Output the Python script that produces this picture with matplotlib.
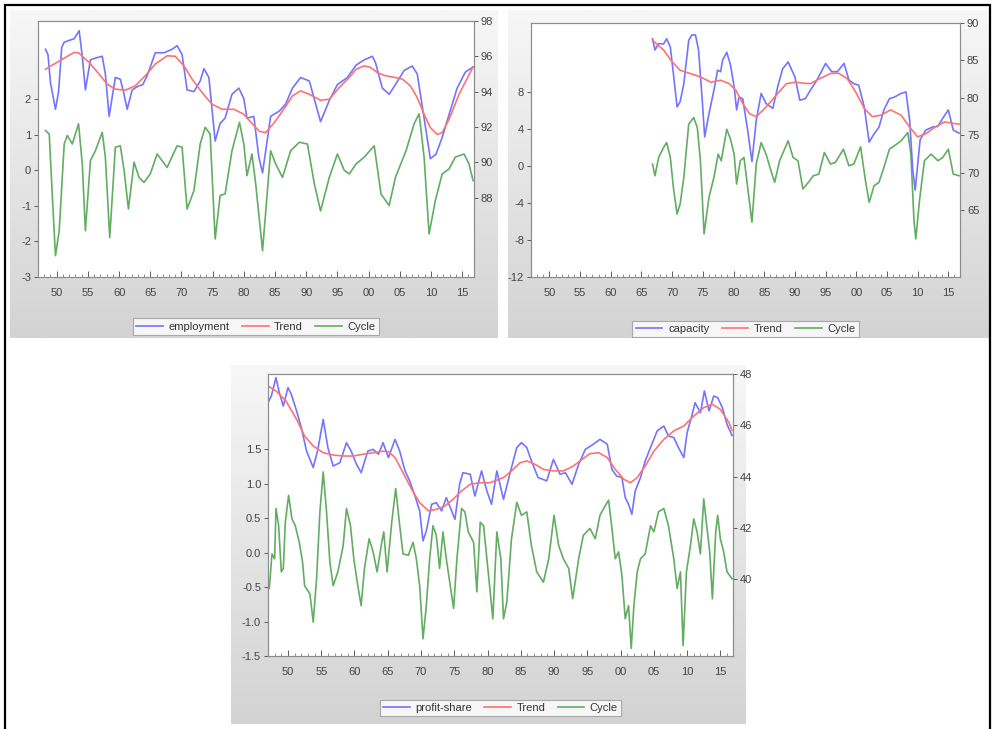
import numpy as np
import matplotlib.pyplot as plt
from matplotlib.colors import LinearSegmentedColormap
from matplotlib.patches import Rectangle
from matplotlib.ticker import MultipleLocator, FuncFormatter

plt.rcParams['font.family'] = ['Liberation Sans', 'DejaVu Sans']

# ---- employment panel ----
emp_yr = [1948.2, 1948.6, 1949.0, 1949.8, 1950.3, 1950.8, 1951.2, 1952.0, 1952.8, 1953.6,
          1954.1, 1954.6, 1955.4, 1956.2, 1957.3, 1957.8, 1958.4, 1959.4, 1960.2, 1960.7,
          1961.3, 1962.1, 1963.0, 1963.8, 1964.5, 1965.8, 1967.2, 1968.5, 1969.3, 1970.1,
          1970.9, 1972.0, 1973.0, 1973.6, 1974.4, 1975.4, 1976.2, 1977.0, 1978.1, 1979.2,
          1980.0, 1980.5, 1981.6, 1982.4, 1983.0, 1984.3, 1985.7, 1986.7, 1987.8, 1989.1,
          1990.5, 1992.3, 1993.7, 1995.0, 1996.6, 1998.0, 1999.3, 2000.6, 2001.1, 2002.2,
          2003.3, 2004.3, 2005.7, 2007.0, 2007.8, 2008.9, 2009.9, 2010.8, 2011.8, 2012.9,
          2014.2, 2015.5, 2016.75]
emp_val = [96.4, 96.1, 94.5, 93.0, 94.0, 96.5, 96.8, 96.9, 97.0, 97.45,
           96.0, 94.1, 95.8, 95.9, 96.0, 95.0, 92.6, 94.8, 94.7, 94.0,
           93.0, 94.1, 94.3, 94.4, 94.9, 96.2, 96.2, 96.4, 96.6, 96.1,
           94.1, 94.0, 94.6, 95.3, 94.8, 91.2, 92.2, 92.5, 93.85, 94.2,
           93.6, 92.5, 92.6, 90.3, 89.4, 92.6, 92.9, 93.3, 94.2, 94.8,
           94.6, 92.3, 93.5, 94.4, 94.8, 95.5, 95.8, 96.0, 95.65, 94.2,
           93.85, 94.4, 95.2, 95.45, 95.0, 92.5, 90.2, 90.45, 91.4, 92.7,
           94.2, 95.1, 95.4]
emp_tr_yr = [1948.2, 1950.9, 1952.8, 1953.5, 1955.2, 1956.8, 1958.1, 1959.4, 1961.0, 1962.6,
             1964.2, 1965.8, 1967.7, 1969.0, 1970.4, 1971.7, 1973.3, 1974.9, 1976.5, 1978.4,
             1980.0, 1981.3, 1982.5, 1983.5, 1984.9, 1986.2, 1987.8, 1989.1, 1990.5, 1992.3,
             1993.7, 1995.3, 1996.9, 1998.0, 1999.3, 2000.3, 2001.4, 2002.7, 2004.3, 2005.4,
             2006.7, 2007.8, 2008.9, 2009.9, 2011.0, 2011.8, 2012.9, 2014.5, 2016.75]
emp_tr_val = [95.27, 95.84, 96.22, 96.2, 95.65, 94.99, 94.42, 94.14, 94.08, 94.33,
              94.9, 95.56, 96.03, 96.0, 95.46, 94.71, 93.95, 93.29, 93.0, 93.0,
              92.72, 92.2, 91.75, 91.68, 92.25, 92.9, 93.76, 94.04, 93.85, 93.51,
              93.57, 94.23, 94.8, 95.27, 95.46, 95.37, 95.08, 94.9, 94.8, 94.71,
              94.33, 93.66, 92.72, 91.96, 91.58, 91.68, 92.43, 93.85, 95.4]
emp_cy_yr = [1948.2, 1948.8, 1949.2, 1949.8, 1950.4, 1951.2, 1951.7, 1952.5, 1953.5, 1954.1,
             1954.6, 1955.4, 1956.2, 1957.3, 1957.8, 1958.5, 1959.4, 1960.2, 1960.8, 1961.5,
             1962.4, 1963.2, 1964.0, 1965.0, 1966.1, 1967.7, 1969.3, 1970.1, 1970.9, 1972.0,
             1973.0, 1973.8, 1974.6, 1975.4, 1976.2, 1977.0, 1978.1, 1979.3, 1980.0, 1980.5,
             1981.3, 1981.9, 1983.0, 1984.3, 1985.1, 1986.2, 1987.5, 1988.9, 1990.2, 1991.3,
             1992.3, 1993.7, 1995.0, 1996.1, 1996.9, 1998.0, 1999.3, 2000.9, 2002.0, 2003.3,
             2004.3, 2006.0, 2007.3, 2008.1, 2008.9, 2009.7, 2010.7, 2011.8, 2012.9, 2013.9,
             2015.3, 2016.1, 2016.75]
emp_cy_val = [1.12, 1.02, -0.38, -2.40, -1.70, 0.74, 0.98, 0.74, 1.31, 0.18,
              -1.70, 0.27, 0.55, 1.07, 0.37, -1.89, 0.65, 0.69, 0.0, -1.09,
              0.23, -0.20, -0.34, -0.10, 0.46, 0.08, 0.69, 0.65, -1.09, -0.57,
              0.74, 1.21, 1.02, -1.93, -0.71, -0.66, 0.55, 1.35, 0.74, -0.15,
              0.46, -0.38, -2.26, 0.55, 0.18, -0.20, 0.55, 0.79, 0.74, -0.38,
              -1.14, -0.20, 0.46, 0.0, -0.10, 0.18, 0.37, 0.69, -0.67, -0.99,
              -0.20, 0.55, 1.31, 1.59, 0.37, -1.79, -0.85, -0.10, 0.04, 0.37,
              0.46, 0.18, -0.29]

# ---- capacity panel ----
cap_yr = [1966.8, 1967.2, 1967.8, 1968.6, 1969.1, 1969.7, 1970.2, 1970.8, 1971.3, 1971.9,
          1972.7, 1973.2, 1973.8, 1974.3, 1974.9, 1975.3, 1976.0, 1976.8, 1977.4, 1977.9,
          1978.2, 1978.9, 1979.5, 1980.1, 1980.5, 1980.9, 1981.5, 1982.3, 1983.0, 1983.7,
          1984.5, 1985.3, 1986.4, 1987.2, 1988.0, 1988.9, 1990.0, 1990.8, 1991.7, 1992.5,
          1993.6, 1995.0, 1996.0, 1996.9, 1998.0, 1998.8, 1999.6, 2000.4, 2001.3, 2002.1,
          2002.9, 2003.7, 2004.5, 2005.4, 2006.2, 2007.3, 2008.1, 2008.7, 2009.2, 2009.6,
          2010.4, 2011.3, 2012.4, 2013.3, 2014.1, 2015.0, 2015.8, 2016.75]
cap_val = [87.9, 86.4, 87.25, 87.2, 87.9, 86.8, 83.25, 78.8, 79.5, 81.9,
           87.7, 88.4, 88.4, 86.4, 79.7, 74.8, 77.9, 81.0, 83.7, 83.5,
           85.0, 86.1, 84.4, 81.5, 78.4, 80.1, 79.9, 75.7, 71.5, 77.0,
           80.6, 79.25, 78.6, 81.5, 83.9, 84.8, 82.8, 79.7, 79.9, 81.0,
           82.4, 84.6, 83.5, 83.5, 84.6, 82.4, 81.9, 81.7, 78.8, 74.1,
           75.2, 76.1, 78.4, 79.9, 80.1, 80.6, 80.8, 77.0, 70.4, 67.7,
           74.4, 75.7, 76.1, 76.2, 77.3, 78.4, 75.7, 75.3]
cap_tr_yr = [1966.8, 1968.6, 1970.0, 1971.3, 1973.0, 1974.6, 1976.3, 1977.9, 1979.3, 1980.4,
             1981.5, 1982.6, 1983.7, 1984.8, 1985.8, 1987.2, 1988.6, 1990.0, 1991.0, 1992.5,
             1994.1, 1995.8, 1997.1, 1998.5, 1999.9, 2001.3, 2002.6, 2004.0, 2005.6, 2007.3,
             2008.7, 2010.0, 2011.4, 2012.8, 2014.4, 2015.8, 2016.75]
cap_tr_val = [87.7, 86.4, 84.8, 83.7, 83.25, 82.8, 82.1, 82.36, 81.9, 81.0,
              79.25, 77.9, 77.5, 78.36, 79.25, 80.6, 81.9, 82.1, 82.0, 81.9,
              82.6, 83.25, 83.3, 82.6, 80.8, 78.6, 77.5, 77.7, 78.4, 77.7,
              76.1, 74.8, 75.25, 76.1, 76.8, 76.6, 76.5]
cap_cy_yr = [1966.8, 1967.2, 1967.8, 1968.6, 1969.1, 1969.7, 1970.2, 1970.8, 1971.3, 1971.9,
             1972.7, 1973.5, 1974.1, 1974.6, 1975.2, 1976.0, 1976.8, 1977.5, 1978.0, 1978.9,
             1979.5, 1980.1, 1980.5, 1981.1, 1981.7, 1982.3, 1983.0, 1983.7, 1984.5, 1985.3,
             1986.1, 1986.7, 1987.5, 1988.9, 1989.7, 1990.5, 1991.3, 1992.2, 1993.0, 1993.9,
             1994.8, 1995.8, 1996.6, 1997.9, 1998.8, 1999.6, 2000.7, 2001.5, 2002.1, 2002.9,
             2003.7, 2004.5, 2005.4, 2006.2, 2007.3, 2008.4, 2008.9, 2009.4, 2009.7, 2010.3,
             2011.1, 2012.2, 2013.3, 2014.1, 2015.0, 2015.8, 2016.75]
cap_cy_val = [0.18, -1.08, 0.9, 1.97, 2.5, 0.9, -2.33, -5.2, -4.12, -1.26,
              4.48, 5.2, 4.12, 0.54, -7.35, -3.41, -1.26, 1.25, 0.54, 3.94,
              2.87, 1.25, -1.97, 0.54, 0.9, -2.33, -6.09, 0.18, 2.5, 1.25,
              -0.54, -1.79, 0.54, 2.69, 0.9, 0.54, -2.51, -1.79, -1.08, -0.9,
              1.43, 0.18, 0.36, 1.79, 0.0, 0.18, 2.04, -1.61, -3.94, -2.15,
              -1.79, -0.18, 1.79, 2.15, 2.69, 3.58, 1.25, -5.92, -7.89, -3.76,
              0.54, 1.25, 0.54, 0.9, 1.79, -0.9, -1.08]

# ---- profit-share panel ----
ps_yr = [1947.0, 1947.5, 1948.2, 1948.7, 1949.3, 1950.0, 1950.5, 1951.3, 1952.0, 1952.8,
         1953.8, 1954.5, 1955.3, 1956.0, 1956.8, 1957.8, 1958.8, 1959.5, 1960.3, 1961.0,
         1962.0, 1962.8, 1963.6, 1964.3, 1965.1, 1966.1, 1966.8, 1967.6, 1968.3, 1969.1,
         1969.8, 1970.3, 1970.8, 1971.6, 1972.3, 1973.1, 1973.8, 1974.6, 1975.1, 1975.8,
         1976.3, 1977.4, 1978.1, 1979.1, 1979.9, 1980.6, 1981.4, 1982.4, 1983.4, 1984.4,
         1985.1, 1985.9, 1986.6, 1987.6, 1988.9, 1989.9, 1990.9, 1991.7, 1992.7, 1993.7,
         1994.7, 1995.9, 1996.9, 1998.0, 1998.7, 1999.4, 2000.2, 2000.7, 2001.2, 2001.7,
         2002.2, 2003.0, 2003.7, 2004.5, 2005.5, 2006.5, 2007.2, 2008.0, 2008.7, 2009.5,
         2010.0, 2010.7, 2011.2, 2012.0, 2012.6, 2013.3, 2014.0, 2014.6, 2015.3, 2016.0,
         2016.75]
ps_val = [46.88, 47.14, 47.86, 47.27, 46.75, 47.47, 47.21, 46.56, 45.91, 44.99,
          44.35, 45.06, 46.23, 45.13, 44.41, 44.54, 45.32, 44.99, 44.48, 44.15,
          44.99, 45.06, 44.87, 45.32, 44.74, 45.45, 44.99, 44.22, 43.83, 43.24,
          42.66, 41.49, 41.88, 42.92, 42.98, 42.66, 43.18, 42.66, 42.33, 43.70,
          44.15, 44.09, 43.24, 44.22, 43.44, 42.92, 44.22, 43.11, 44.15, 45.13,
          45.32, 45.13, 44.61, 43.96, 43.83, 44.67, 44.09, 44.15, 43.70, 44.48,
          45.06, 45.26, 45.45, 45.26, 44.28, 44.02, 43.96, 43.18, 42.92, 42.53,
          43.44, 43.96, 44.61, 45.13, 45.78, 45.97, 45.58, 45.52, 45.13, 44.74,
          45.71, 46.36, 46.88, 46.49, 47.34, 46.56, 47.14, 47.08, 46.69, 46.04,
          45.6]
ps_tr_yr = [1947.0, 1948.2, 1949.7, 1951.3, 1952.5, 1953.8, 1955.3, 1956.8, 1958.3, 1959.8,
            1961.3, 1962.8, 1964.3, 1965.1, 1966.1, 1967.3, 1968.6, 1969.8, 1971.1, 1972.3,
            1973.6, 1974.8, 1976.1, 1977.4, 1978.9, 1980.4, 1982.4, 1983.6, 1984.9, 1985.9,
            1987.1, 1988.4, 1989.9, 1991.4, 1992.9, 1994.2, 1995.4, 1996.7, 1998.0, 1999.2,
            2000.5, 2001.5, 2002.5, 2003.7, 2005.0, 2006.5, 2008.0, 2009.5, 2011.0, 2012.5,
            2013.8, 2015.0, 2016.3, 2016.75]
ps_tr_val = [47.53, 47.34, 46.95, 46.23, 45.58, 45.19, 44.93, 44.84, 44.8, 44.8,
             44.87, 44.93, 44.99, 44.97, 44.74, 44.15, 43.5, 42.98, 42.66, 42.72,
             42.85, 43.11, 43.44, 43.7, 43.76, 43.76, 43.96, 44.22, 44.54, 44.61,
             44.48, 44.28, 44.22, 44.22, 44.41, 44.67, 44.89, 44.93, 44.74, 44.28,
             43.89, 43.76, 43.96, 44.41, 44.99, 45.45, 45.78, 45.97, 46.36, 46.69,
             46.82, 46.62, 46.1, 45.8]
ps_cy_yr = [1947.0, 1947.2, 1947.6, 1948.0, 1948.2, 1948.6, 1949.0, 1949.3, 1949.6, 1950.1,
            1950.6, 1951.1, 1951.7, 1952.2, 1952.5, 1953.3, 1953.8, 1954.3, 1954.8, 1955.3,
            1955.8, 1956.3, 1956.8, 1957.5, 1958.3, 1958.8, 1959.4, 1959.9, 1960.5, 1961.0,
            1961.5, 1962.2, 1962.8, 1963.4, 1964.1, 1964.4, 1964.9, 1965.6, 1966.2, 1966.8,
            1967.3, 1968.1, 1968.8, 1969.3, 1969.8, 1970.3, 1970.8, 1971.3, 1971.8, 1972.3,
            1972.8, 1973.3, 1973.8, 1974.4, 1974.9, 1975.4, 1976.1, 1976.6, 1977.1, 1977.9,
            1978.4, 1978.9, 1979.4, 1980.1, 1980.8, 1981.4, 1982.0, 1982.4, 1982.9, 1983.6,
            1984.4, 1985.1, 1985.9, 1986.6, 1987.4, 1988.4, 1989.2, 1990.0, 1990.7, 1991.4,
            1992.2, 1992.8, 1993.7, 1994.4, 1995.4, 1996.2, 1996.9, 1997.7, 1998.2, 1998.7,
            1999.2, 1999.7, 2000.2, 2000.7, 2001.2, 2001.6, 2002.0, 2002.5, 2003.0, 2003.7,
            2004.5, 2005.0, 2005.7, 2006.5, 2007.2, 2008.0, 2008.5, 2009.0, 2009.4, 2009.9,
            2010.5, 2011.0, 2011.5, 2012.0, 2012.5, 2013.0, 2013.4, 2013.8, 2014.3, 2014.6,
            2015.0, 2015.5, 2016.0, 2016.75]
ps_cy_val = [-0.5, -0.52, -0.02, -0.09, 0.64, 0.39, -0.28, -0.23, 0.44, 0.83,
             0.49, 0.39, 0.15, -0.14, -0.48, -0.6, -1.01, -0.38, 0.59, 1.17,
             0.59, -0.14, -0.48, -0.28, 0.1, 0.64, 0.39, -0.09, -0.48, -0.77,
             -0.23, 0.2, 0.01, -0.28, 0.15, 0.3, -0.28, 0.44, 0.93, 0.39,
             -0.02, -0.04, 0.15, -0.09, -0.48, -1.25, -0.77, -0.09, 0.39, 0.25,
             -0.23, 0.3, -0.09, -0.48, -0.81, -0.09, 0.64, 0.59, 0.3, 0.15,
             -0.57, 0.44, 0.39, -0.28, -0.96, 0.3, -0.09, -0.96, -0.72, 0.2,
             0.73, 0.54, 0.59, 0.1, -0.28, -0.43, -0.09, 0.54, 0.1, -0.09,
             -0.23, -0.67, -0.09, 0.25, 0.35, 0.2, 0.54, 0.68, 0.76, 0.35,
             -0.09, 0.01, -0.33, -0.96, -0.77, -1.39, -0.77, -0.28, -0.09, -0.02,
             0.39, 0.3, 0.59, 0.64, 0.39, -0.09, -0.52, -0.28, -1.35, -0.28,
             0.1, 0.49, 0.3, -0.02, 0.78, 0.35, 0.01, -0.67, 0.3, 0.54,
             0.2, 0.01, -0.28, -0.38]

BLUE = '#7474ff'
RED = '#ff7272'
GREEN = '#62ad62'
W, H = 996, 729

frame_cmap = LinearSegmentedColormap.from_list('frame', ['#f7f7f7', '#d3d3d3'])


def px_rect(x0, y0, x1, y1):
    """Pixel box (top-left origin) -> figure fraction rect."""
    return [x0 / W, 1 - y1 / H, (x1 - x0) / W, (y1 - y0) / H]


def draw_frame(fig, box):
    ax = fig.add_axes(px_rect(*box), zorder=0)
    grad = np.linspace(0, 1, 256).reshape(-1, 1)
    ax.imshow(grad, aspect='auto', cmap=frame_cmap, extent=[0, 1, 0, 1], origin='upper')
    ax.axis('off')


def draw_panel(fig, box, level, trend, cycle, name, left_lim, left_ticks,
               right_lim, right_ticks, left_fmt, legend_y):
    ax = fig.add_axes(px_rect(*box), zorder=1)
    ax2 = ax.twinx()
    ax2.set_zorder(2)

    l3, = ax.plot(cycle[0], cycle[1], color=GREEN, lw=1.2)
    l1, = ax2.plot(level[0], level[1], color=BLUE, lw=1.2)
    l2, = ax2.plot(trend[0], trend[1], color=RED, lw=1.2)

    ax.set_xlim(1947, 2016.9)
    ax.set_ylim(*left_lim)
    ax2.set_ylim(*right_lim)
    ax.set_yticks(left_ticks)
    ax2.set_yticks(right_ticks)
    ax.yaxis.set_major_formatter(FuncFormatter(left_fmt))
    ax2.yaxis.set_major_formatter(FuncFormatter(lambda v, p: '%d' % v))

    ax.xaxis.set_major_locator(MultipleLocator(5))
    ax.xaxis.set_minor_locator(MultipleLocator(1))
    ax.xaxis.set_major_formatter(FuncFormatter(lambda v, p: '%02d' % (int(round(v)) % 100)))

    for a in (ax, ax2):
        for s in a.spines.values():
            s.set_color('#8c8c8c')
            s.set_linewidth(0.8)
        a.tick_params(colors='#444444', labelsize=8, width=0.6, length=3)
    ax.tick_params(axis='x', which='major', direction='in', length=4, pad=8)
    ax.tick_params(axis='x', which='minor', direction='in', length=2.5, width=0.5,
                   color='#666666')
    ax.tick_params(axis='y', pad=2)
    ax2.tick_params(axis='y', pad=2)

    leg = ax2.legend([l1, l2, l3], [name, 'Trend', 'Cycle'], loc='upper center',
                     bbox_to_anchor=(0.5, legend_y), ncol=3, fontsize=8,
                     frameon=True, fancybox=False, edgecolor='#999999',
                     handlelength=2.4, handletextpad=0.5, columnspacing=1.1,
                     borderpad=0.3, labelcolor='#333333')
    leg.get_frame().set_linewidth(0.8)


fig = plt.figure(figsize=(W / 100, H / 100), dpi=100)
fig.patch.set_facecolor('white')

draw_frame(fig, (10, 10, 497, 338))
draw_frame(fig, (508, 10, 989, 338))
draw_frame(fig, (231, 365, 745, 724))

draw_panel(fig, (38, 21, 474, 277), (emp_yr, emp_val), (emp_tr_yr, emp_tr_val),
           (emp_cy_yr, emp_cy_val), 'employment', (-3, 4.2), [-3, -2, -1, 0, 1, 2],
           (83.5, 98), [88, 90, 92, 94, 96, 98], lambda v, p: '%d' % v, -0.14)
draw_panel(fig, (531, 23, 960, 277), (cap_yr, cap_val), (cap_tr_yr, cap_tr_val),
           (cap_cy_yr, cap_cy_val), 'capacity', (-12, 15.4), [-12, -8, -4, 0, 4, 8],
           (56.1, 90), [65, 70, 75, 80, 85, 90], lambda v, p: '%d' % v, -0.15)
draw_panel(fig, (268, 374, 733, 656), (ps_yr, ps_val), (ps_tr_yr, ps_tr_val),
           (ps_cy_yr, ps_cy_val), 'profit-share', (-1.5, 2.59),
           [-1.5, -1.0, -0.5, 0.0, 0.5, 1.0, 1.5],
           (37.0, 48.0), [40, 42, 44, 46, 48], lambda v, p: '%.1f' % v, -0.135)

# outer black border of the page
fig.add_artist(Rectangle((5 / W, -0.1), (990 - 5) / W, 1.1 - 5 / H,
                         transform=fig.transFigure, fill=False, lw=1.6, color='black'))

fig.savefig('out.png', dpi=100)
